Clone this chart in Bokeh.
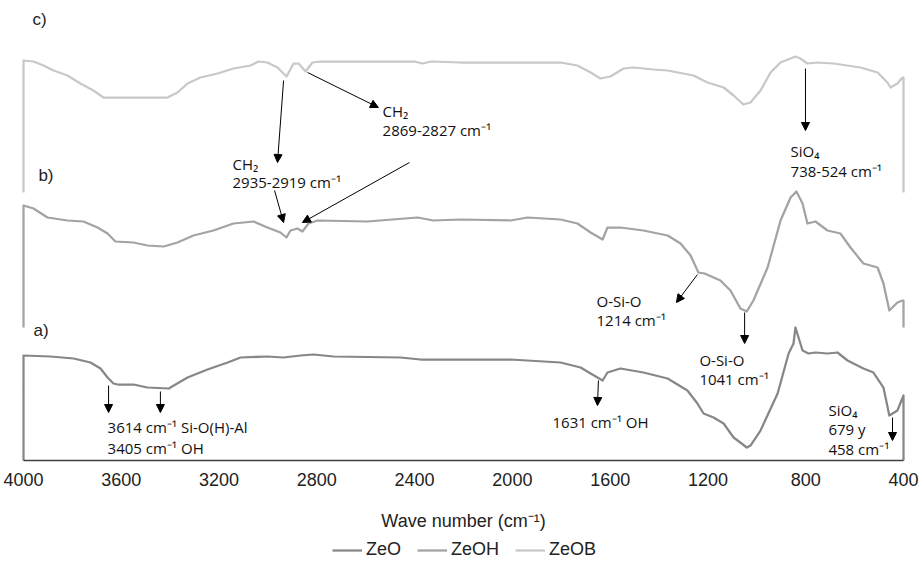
from bokeh.plotting import figure
from bokeh.models import (Range1d, FixedTicker, Label, Arrow, NormalHead,
                          Legend, LegendItem)
from bokeh.embed import file_html
from bokeh.resources import INLINE

# FTIR spectra (wave number in cm-1, stacked transmittance in arbitrary units)
zeo_wn = [4000, 4000, 3890, 3795, 3726, 3685, 3656, 3632, 3614, 3550, 3493, 3405,
          3399, 3329, 3247, 3165, 3112, 3002, 2936, 2867, 2814, 2732, 2458, 2376,
          2212, 2008, 1803, 1721, 1680, 1631, 1611, 1558, 1464, 1365, 1284, 1243,
          1218, 1177, 1136, 1095, 1041, 1026, 985, 915, 870, 850, 842, 813, 789,
          760, 711, 670, 629, 564, 523, 482, 458, 425, 400, 400]
zeo_t = [0, 105, 104, 102, 98, 92, 83, 77, 76, 76, 73, 72,
         73, 83, 91, 98, 103, 104, 103, 105, 106, 104, 103, 101,
         101, 101, 98, 93, 87, 80, 88, 92, 88, 82, 70, 57,
         47, 43, 37, 23, 13, 15, 30, 67, 107, 117, 133, 110, 107,
         108, 107, 108, 100, 92, 88, 73, 45, 50, 65, 0]

zeoh_wn = [4000, 4000, 3959, 3902, 3820, 3755, 3697, 3656, 3624, 3550, 3493, 3427,
           3370, 3305, 3223, 3141, 3059, 3002, 2949, 2924, 2908, 2879, 2859, 2834,
           2797, 2593, 2388, 2323, 2212, 2008, 1938, 1803, 1734, 1680, 1631, 1611,
           1558, 1464, 1365, 1312, 1271, 1239, 1214, 1149, 1108, 1067, 1041, 1014,
           956, 903, 862, 838, 813, 793, 760, 711, 658, 617, 564, 506, 482, 458,
           425, 404, 400, 400]
zeoh_t = [133, 255, 252, 243, 240, 239, 233, 227, 219, 218, 215, 214,
          218, 225, 230, 237, 239, 233, 228, 223, 230, 232, 229, 237,
          240, 239, 243, 240, 241, 240, 243, 241, 237, 228, 221, 233,
          233, 230, 225, 217, 205, 188, 187, 180, 170, 152, 149, 160,
          193, 240, 263, 269, 257, 237, 239, 230, 227, 213, 197, 193, 177, 150,
          158, 160, 160, 133]

zeob_wn = [4000, 4000, 3959, 3918, 3877, 3820, 3767, 3714, 3673, 3615, 3550, 3480,
           3411, 3370, 3329, 3276, 3206, 3141, 3071, 3039, 3002, 2961, 2924, 2895,
           2875, 2846, 2818, 2785, 2400, 2368, 2330, 2212, 2008, 1803, 1734, 1680,
           1640, 1599, 1545, 1505, 1423, 1365, 1259, 1202, 1136, 1095, 1055, 1026,
           985, 944, 903, 842, 822, 793, 752, 686, 576, 506, 466, 453, 425, 404,
           400, 400]
zeob_t = [268, 400, 399, 395, 390, 385, 377, 370, 363, 363, 363, 363,
          363, 368, 377, 383, 387, 392, 395, 399, 398, 393, 384, 397,
          397, 389, 398, 399, 399, 397, 399, 398, 398, 398, 395, 388,
          382, 384, 392, 393, 391, 390, 385, 378, 373, 365, 356, 358,
          370, 388, 398, 404, 402, 397, 398, 397, 393, 388, 378, 373, 377, 383,
          383, 268]

series_names = ["ZeO", "ZeOH", "ZeOB"]
series_colors = ["#878787", "#a3a3a3", "#c8c8c8"]
x_ticks = [4000, 3600, 3200, 2800, 2400, 2000, 1600, 1200, 800, 400]

# the frame covers the whole canvas; the wave-number axis is pinned at y = 0
# and its line is bounded to the 4000-400 cm-1 span
p = figure(frame_width=923, frame_height=563, output_backend="svg",
           toolbar_location=None, x_range=Range1d(4094.1, 318.2),
           y_range=Range1d(-103, 460), y_axis_location=None, tools="")
p.min_border_left = 0
p.min_border_right = 0
p.min_border_top = 0
p.min_border_bottom = 0
p.outline_line_color = None
p.grid.visible = False
p.background_fill_color = "white"
p.border_fill_color = "white"

renderers = []
for wn, t, col in [(zeo_wn, zeo_t, series_colors[0]),
                   (zeoh_wn, zeoh_t, series_colors[1]),
                   (zeob_wn, zeob_t, series_colors[2])]:
    renderers.append(p.line(wn, t, line_color=col, line_width=2.25,
                            line_join="round"))

ax = p.xaxis[0]
ax.fixed_location = 0
ax.bounds = (400, 4000)
ax.ticker = FixedTicker(ticks=x_ticks)
ax.axis_line_color = "#404040"
ax.axis_line_width = 1.5
ax.major_tick_line_color = None
ax.minor_tick_line_color = None
ax.major_tick_out = 0
ax.major_label_standoff = 12
ax.major_label_text_font = "Liberation Sans"
ax.major_label_text_font_size = "18px"
ax.major_label_text_color = "#222222"
ax.axis_label = "Wave number (cm\u207b\u00b9)"
ax.axis_label_text_font = "Liberation Sans"
ax.axis_label_text_font_size = "18px"
ax.axis_label_text_font_style = "normal"
ax.axis_label_text_color = "#222222"
ax.axis_label_standoff = 22

legend = Legend(items=[LegendItem(label=n, renderers=[r])
                       for n, r in zip(series_names, renderers)],
                orientation="horizontal", location=(332, 3),
                label_text_font="Liberation Sans", label_text_font_size="18px",
                label_text_color="#222222",
                glyph_width=30, glyph_height=20, label_height=20,
                label_standoff=4, spacing=16, padding=0, margin=0,
                border_line_color=None, background_fill_alpha=0)
p.add_layout(legend)

# panel letters
for txt, x, y in [("c)", 3963, 441), ("b)", 3939, 285), ("a)", 3959, 130)]:
    p.add_layout(Label(x=x, y=y, text=txt, text_font="Liberation Sans",
                       text_font_size="17px", text_color="#222222",
                       text_baseline="middle", text_align="left"))

# band assignments
notes = [
    ("CH\u2082", 2531, 350), ("2869-2827  cm\u207b\u00b9", 2531, 331),
    ("CH\u2082", 3145, 297), ("2935-2919  cm\u207b\u00b9", 3145, 279),
    ("SiO\u2084", 862, 310), ("738-524 cm\u207b\u00b9", 862, 290),
    ("O-Si-O", 1656, 160), ("1214  cm\u207b\u00b9", 1656, 141),
    ("O-Si-O", 1235, 101), ("1041  cm\u207b\u00b9", 1235, 82),
    ("3614 cm\u207b\u00b9  Si-O(H)-Al", 3656, 34), ("3405 cm\u207b\u00b9  OH", 3656, 13),
    ("1631 cm\u207b\u00b9 OH", 1836, 39),
    ("SiO\u2084", 707, 51), ("679 y", 707, 32), ("458 cm\u207b\u00b9", 707, 12),
]
for txt, x, y in notes:
    p.add_layout(Label(x=x, y=y, text=txt, text_font="Open Sans",
                       text_font_size="15px", text_color="#111111",
                       text_baseline="middle", text_align="left"))

arrows = [
    (2838, 388, 2548, 353), (2936, 380, 2961, 298),
    (2973, 270, 2936, 238), (2421, 298, 2859, 238),
    (801, 392, 801, 330),
    (1243, 186, 1329, 158), (1050, 148, 1050, 117),
    (3652, 75, 3652, 48), (3440, 69, 3440, 48),
    (1648, 80, 1652, 55), (445, 43, 445, 20),
]
for x0, y0, x1, y1 in arrows:
    p.add_layout(Arrow(x_start=x0, y_start=y0, x_end=x1, y_end=y1,
                       line_color="black", line_width=1,
                       end=NormalHead(size=8, line_color="black",
                                      fill_color="black", line_width=1)))

open("out.html", "w").write(file_html(p, INLINE))
